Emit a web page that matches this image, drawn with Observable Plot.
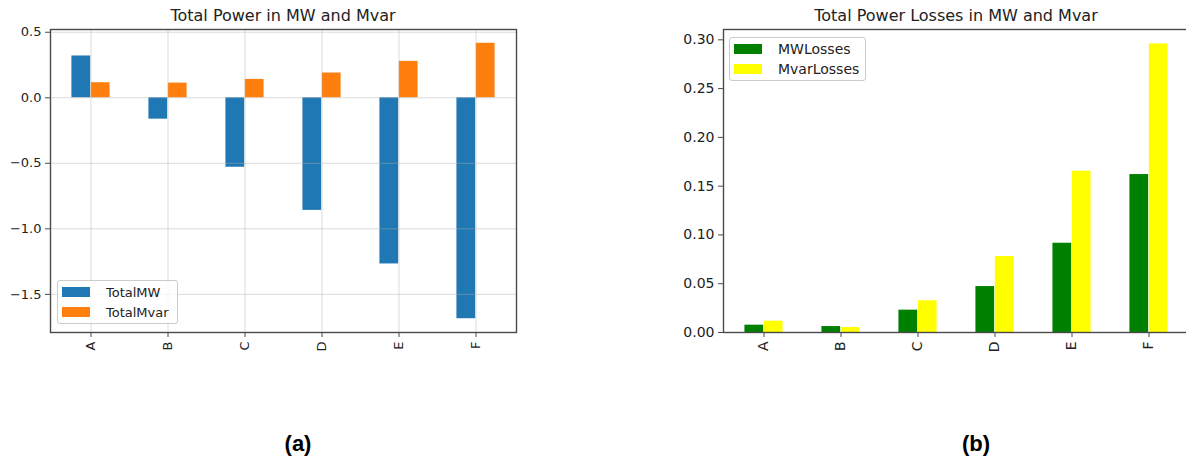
<!DOCTYPE html>
<html>
<head>
<meta charset="utf-8">
<script src="https://cdn.jsdelivr.net/npm/d3@7"></script>
<script src="https://cdn.jsdelivr.net/npm/@observablehq/plot@0.6"></script>
<style>
  html, body { margin: 0; padding: 0; background: #fff; overflow: hidden; }
  #page { position: relative; width: 1186px; height: 463px; overflow: hidden;
          font-family: "DejaVu Sans", sans-serif; color: #222; }
  .panel { position: absolute; top: 0; width: 540px; }
  .panel svg { max-width: none !important; }
  .title { position: absolute; font-size: 16px; line-height: 16px; white-space: nowrap;
           transform: translateX(-50%); }
  .tag { position: absolute; font-family: "Liberation Sans", Arial, sans-serif; font-weight: bold;
         font-size: 22px; line-height: 22px; transform: translateX(-50%); color: #000; }
  .legend { position: absolute; background: rgba(255,255,255,0.8); border: 1px solid #cccccc;
            border-radius: 3px; box-sizing: border-box; }
  .legend .row { display: flex; align-items: center; height: 20px; white-space: nowrap; }
  .legend .swatch { width: 28px; height: 10px; margin-left: 4px; flex: none; }
</style>
</head>
<body>
<div id="page"></div>
<script>
// Bus groups shown on both charts
const categories = ["A", "B", "C", "D", "E", "F"];

// Panel (a): total power per group
const totalMW   = [0.319, -0.163, -0.530, -0.859, -1.268, -1.686];
const totalMvar = [0.115, 0.112, 0.140, 0.189, 0.278, 0.416];
const powerTicks = [-1.5, -1.0, -0.5, 0.0, 0.5];

// Panel (b): total power losses per group
const mwLosses   = [0.0075, 0.0061, 0.0229, 0.0471, 0.0915, 0.1619];
const mvarLosses = [0.0116, 0.0051, 0.0325, 0.0779, 0.1653, 0.2958];
const lossTicks  = [0, 0.05, 0.10, 0.15, 0.20, 0.25, 0.30];

const page = document.getElementById("page");

// y extent with a 5% margin, but bars stay anchored on zero
function yDomain(values) {
  const lo = Math.min(0, d3.min(values));
  const hi = Math.max(0, d3.max(values));
  const pad = (hi - lo) * 0.05;
  return [lo < 0 ? lo - pad : 0, hi > 0 ? hi + pad : 0];
}

function groupedBars({first, second, colors, ticks, format, width, height, margin, grid, fontSize}) {
  const step = (width - margin.left - margin.right) / categories.length;
  const rows = categories.map((c, i) => ({category: c, first: first[i], second: second[i]}));
  const marks = [
    Plot.barY(rows, {x: "category", y1: 0, y2: "first", fill: colors[0],
                     insetLeft: step * 0.25, insetRight: step * 0.5}),
    Plot.barY(rows, {x: "category", y1: 0, y2: "second", fill: colors[1],
                     insetLeft: step * 0.5, insetRight: step * 0.25})
  ];
  if (grid) {
    marks.push(Plot.gridY(ticks, {stroke: "#b0b0b0", strokeOpacity: 0.45, strokeWidth: 1}));
    marks.push(Plot.gridX({stroke: "#b0b0b0", strokeOpacity: 0.45, strokeWidth: 1}));
  }
  marks.push(
    Plot.frame({stroke: "#4a4a4a", strokeWidth: 1.4}),
    Plot.axisY(ticks, {tickFormat: format, tickSize: 5, tickPadding: 4, fontSize,
                       stroke: "#4a4a4a", fill: "#222"}),
    Plot.axisX({tickRotate: -90, tickSize: 5, tickPadding: 4, fontSize,
                stroke: "#4a4a4a", fill: "#222"})
  );
  return Plot.plot({
    width, height,
    marginLeft: margin.left, marginRight: margin.right,
    marginTop: margin.top, marginBottom: margin.bottom,
    x: {type: "band", domain: categories, padding: 0, label: null},
    y: {domain: yDomain([...first, ...second]), label: null},
    style: {fontFamily: "DejaVu Sans", fontSize: fontSize + "px", color: "#222",
            background: "transparent", overflow: "visible", maxWidth: "none"},
    marks
  });
}

function place(node, left) {
  const wrap = document.createElement("div");
  wrap.className = "panel";
  wrap.style.left = left + "px";
  wrap.appendChild(node);
  page.appendChild(wrap);
}

function addText(cls, text, x, y) {
  const el = document.createElement("div");
  el.className = cls;
  el.textContent = text;
  el.style.left = x + "px";
  el.style.top = y + "px";
  page.appendChild(el);
}

function addLegend(items, box, fontSize, textGap) {
  const el = document.createElement("div");
  el.className = "legend";
  Object.assign(el.style, {left: box.x + "px", top: box.y + "px",
                           width: box.w + "px", height: box.h + "px",
                           paddingTop: box.pad + "px", fontSize: fontSize + "px"});
  for (const [label, color] of items) {
    const row = document.createElement("div");
    row.className = "row";
    row.style.height = box.row + "px";
    const sw = document.createElement("div");
    sw.className = "swatch";
    sw.style.background = color;
    const tx = document.createElement("span");
    tx.textContent = label;
    tx.style.marginLeft = textGap + "px";
    row.append(sw, tx);
    el.appendChild(row);
  }
  page.appendChild(el);
}

// (a) Total power
place(groupedBars({
  first: totalMW, second: totalMvar, colors: ["#1f77b4", "#ff7f0e"],
  ticks: powerTicks, format: d3.format(".1f"),
  width: 540, height: 380, margin: {left: 50, right: 24, top: 29, bottom: 48},
  grid: true, fontSize: 13
}), 0);

// (b) Total power losses
place(groupedBars({
  first: mwLosses, second: mvarLosses, colors: ["#008000", "#ffff00"],
  ticks: lossTicks, format: d3.format(".2f"),
  width: 540, height: 380, margin: {left: 63, right: 11, top: 29, bottom: 48},
  grid: false, fontSize: 14
}), 660);

addText("title", "Total Power in MW and Mvar", 283, 7.5);
addText("title", "Total Power Losses in MW and Mvar", 956, 7.5);

addLegend([["TotalMW", "#1f77b4"], ["TotalMvar", "#ff7f0e"]],
          {x: 57, y: 280, w: 121, h: 44, pad: 1, row: 20}, 13, 16);
addLegend([["MWLosses", "#008000"], ["MvarLosses", "#ffff00"]],
          {x: 729, y: 37, w: 137, h: 44, pad: 0.5, row: 20}, 14, 16);

addText("tag", "(a)", 298, 433);
addText("tag", "(b)", 976, 433);
</script>
</body>
</html>
